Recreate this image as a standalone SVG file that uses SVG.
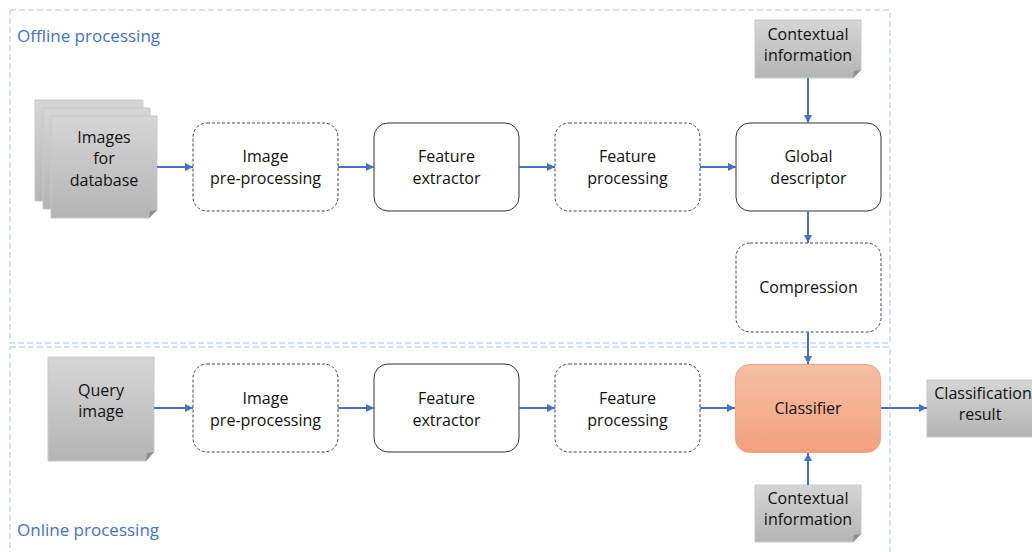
<svg xmlns="http://www.w3.org/2000/svg" width="1032" height="552" viewBox="0 0 1032 552">
<defs>
<linearGradient id="gray" x1="0" y1="0" x2="0" y2="1"><stop offset="0" stop-color="#d6d6d6"/><stop offset="1" stop-color="#b4b4b4"/></linearGradient>
<linearGradient id="orange" x1="0" y1="0" x2="0" y2="1"><stop offset="0" stop-color="#f6c0a4"/><stop offset="1" stop-color="#f4a07d"/></linearGradient>
<marker id="ah" viewBox="0 0 10 10" refX="10" refY="5" markerWidth="4" markerHeight="4" orient="auto"><path d="M0,0 L10,5 L0,10 z" fill="#4472c4"/></marker>
</defs>
<style>
.t{font-family:"Open Sans","Liberation Sans",sans-serif;font-size:16px;fill:#111;text-anchor:middle}
.lab{font-family:"Open Sans","Liberation Sans",sans-serif;font-size:17px;fill:#4472c4}
.solid{fill:#fff;stroke:#333;stroke-width:1}
.dash{fill:#fff;stroke:#444;stroke-width:1;stroke-dasharray:3,2}
.note{fill:url(#gray);stroke:#c8c8c8;stroke-width:1}
.fold{fill:#8f8f8f}
.cont{fill:none;stroke:#a9c6e6;stroke-width:1;stroke-dasharray:6,3}
.c{stroke:#4472c4;stroke-width:2;fill:none;marker-end:url(#ah)}
</style>
<rect width="1032" height="552" fill="#fff"/>
<g id="containers">
<rect class="cont" x="10" y="10" width="880" height="333"/>
<rect class="cont" x="10" y="347" width="880" height="215"/>
<text class="lab" x="17" y="42">Offline processing</text>
<text class="lab" x="17" y="536">Online processing</text>
</g>
<g id="images-db">
<path class="note" d="M35,100 H143 V194 L136,201 H35 Z"/>
<path class="note" d="M43,108 H150 V202 L143,209 H43 Z"/>
<path class="note" d="M51,116 H157 V210 L149,218 H51 Z"/>
<path class="fold" d="M157,210 L149,218 L150,211 Z"/>
<text class="t" x="104" y="143">Images</text>
<text class="t" x="104" y="164">for</text>
<text class="t" x="104" y="186">database</text>
</g>
<g id="pre1"><rect class="dash" x="193" y="123" width="145" height="88" rx="14"/><text class="t" x="265.5" y="162">Image</text><text class="t" x="265.5" y="184">pre-processing</text></g>
<g id="fe1"><rect class="solid" x="374" y="123" width="145" height="88" rx="14"/><text class="t" x="446.5" y="162">Feature</text><text class="t" x="446.5" y="184">extractor</text></g>
<g id="fp1"><rect class="dash" x="555" y="123" width="145" height="88" rx="14"/><text class="t" x="627.5" y="162">Feature</text><text class="t" x="627.5" y="184">processing</text></g>
<g id="gd"><rect class="solid" x="736" y="123" width="145" height="88" rx="14"/><text class="t" x="808.5" y="162">Global</text><text class="t" x="808.5" y="184">descriptor</text></g>
<g id="ctx1"><path class="note" d="M755,20 H861 V70 L853,78 H755 Z"/><path class="fold" d="M861,70 L853,78 L854,71 Z"/><text class="t" x="808" y="40">Contextual</text><text class="t" x="808" y="61">information</text></g>
<g id="comp"><rect class="dash" x="736" y="243" width="145" height="89" rx="14"/><text class="t" x="808.5" y="293">Compression</text></g>
<g id="query"><path class="note" d="M48,357 H154 V452 L146,461 H48 Z"/><path class="fold" d="M154,452 L146,461 L147,453 Z"/><text class="t" x="101" y="396">Query</text><text class="t" x="101" y="417">image</text></g>
<g id="pre2"><rect class="dash" x="193" y="364" width="145" height="88" rx="14"/><text class="t" x="265.5" y="404">Image</text><text class="t" x="265.5" y="426">pre-processing</text></g>
<g id="fe2"><rect class="solid" x="374" y="364" width="145" height="88" rx="14"/><text class="t" x="446.5" y="404">Feature</text><text class="t" x="446.5" y="426">extractor</text></g>
<g id="fp2"><rect class="dash" x="555" y="364" width="145" height="88" rx="14"/><text class="t" x="627.5" y="404">Feature</text><text class="t" x="627.5" y="426">processing</text></g>
<g id="cls"><rect x="735.5" y="364.5" width="145" height="88" rx="14" fill="url(#orange)" stroke="#f2a383"/><text class="t" x="808" y="414">Classifier</text></g>
<g id="result"><rect x="927" y="380" width="106" height="57" fill="url(#gray)" stroke="#c8c8c8"/><text class="t" x="983" y="399">Classification</text><text class="t" x="980" y="420">result</text></g>
<g id="ctx2"><path class="note" d="M755,485 H861 V534 L853,542 H755 Z"/><path class="fold" d="M861,534 L853,542 L854,535 Z"/><text class="t" x="808" y="504">Contextual</text><text class="t" x="808" y="525">information</text></g>
<g id="connectors">
<path class="c" d="M157,167 H193"/>
<path class="c" d="M338,167 H374"/>
<path class="c" d="M519,167 H555"/>
<path class="c" d="M700,167 H736"/>
<path class="c" d="M808,78 V123"/>
<path class="c" d="M808,211 V243"/>
<path class="c" d="M808,332 V364"/>
<path class="c" d="M154,408 H193"/>
<path class="c" d="M338,408 H374"/>
<path class="c" d="M519,408 H555"/>
<path class="c" d="M700,408 H735"/>
<path class="c" d="M881,408 H927"/>
<path class="c" d="M808,485 V453"/>
</g>
</svg>
